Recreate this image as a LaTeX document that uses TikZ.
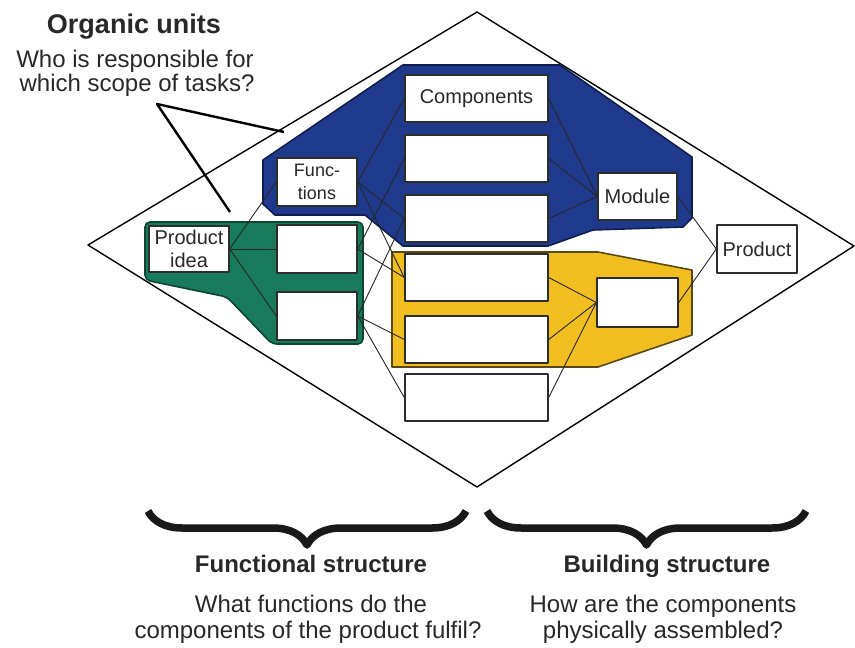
\documentclass[tikz,border=0pt]{standalone}
\usepackage{fontspec}
\setmainfont{Liberation Sans}
\usetikzlibrary{positioning,calc,decorations.pathreplacing}
\definecolor{unitblue}{RGB}{31,58,138}
\definecolor{unitblueline}{RGB}{14,30,80}
\definecolor{unitgreen}{RGB}{24,122,90}
\definecolor{unitgreenline}{RGB}{12,70,50}
\definecolor{unityellow}{RGB}{240,190,30}
\definecolor{unityellowline}{RGB}{90,72,16}
\definecolor{boxgray}{RGB}{45,45,45}
\definecolor{txtgray}{RGB}{40,40,40}

\begin{document}
\begin{tikzpicture}[x=1pt, y=-1pt, line join=round,
  box/.style={draw=boxgray, fill=white, line width=1.4pt, inner sep=0pt, align=center,
              text=txtgray, font=\fontsize{20}{23}\selectfont},
  compbox/.style={box, minimum width=143pt, minimum height=47pt},
  smallbox/.style={box, minimum width=80pt, minimum height=47pt},
  link/.style={draw=black!85, line width=0.9pt},
  callout/.style={draw=black, line width=2.4pt},
  bigbrace/.style={decorate, decoration={brace, mirror, amplitude=34pt}, line width=7.5pt, draw=black!90},
  headtext/.style={text=txtgray, font=\bfseries\fontsize{24}{27}\selectfont, anchor=base},
  asktext/.style={text=txtgray, font=\fontsize{24}{26}\selectfont, align=center, anchor=base}]
\useasboundingbox (0,0) rectangle (855,648);

% frame
\coordinate (top)    at (477,12);
\coordinate (right)  at (854,246);
\coordinate (bottom) at (477,487);
\coordinate (left)   at (88,245);
\draw[line width=1.4pt] (top)--(right)--(bottom)--(left)--cycle;

% organic units
\draw[fill=unitblue, draw=unitblueline, line width=1.6pt]
  (403,65)--(560,65)--(692,157)--(692,218)--(683,227)--(593,230)--(548,246)
  --(403,246)--(365,215)--(275,215)--(263,204)--(263,160)--cycle;
\draw[fill=unitgreen, draw=unitgreenline, line width=1.6pt, rounded corners=5pt]
  (145,222)--(363,222)--(363,344)--(272,344)--(227,297)--(145,280)--cycle;
\draw[fill=unityellow, draw=unityellowline, line width=1.6pt]
  (392,252)--(598,252)--(692,270)--(692,335)--(598,367)--(392,367)--cycle;

% boxes
\foreach \n/\y/\t in {c1/98.5/Components, c2/158.5/, c3/218.5/, c4/277.5/, c5/339.5/, c6/397.5/}
  \node[compbox] (\n) at (476.5,\y) {\t};
\node[smallbox, minimum height=46pt] (idea) at (189,249) {Product\\idea};
\node[smallbox, minimum height=48pt, font=\fontsize{18}{23}\selectfont] (func) at (317,182) {Func-\\tions};
\node[smallbox, minimum height=48pt] (fun1) at (317,249) {};
\node[smallbox, minimum height=48pt] (fun2) at (317,316) {};
\node[smallbox, minimum width=79pt] (modA) at (637.5,196.5) {Module};
\node[smallbox, minimum width=81pt, minimum height=49pt] (modB) at (637.5,302.5) {};
\node[smallbox, minimum height=48pt] (prod) at (757,249) {Product};

% links
\foreach \f in {func,fun1,fun2}
  \draw[link] (idea.east) -- (\f.west);
\foreach \c in {c1,c3,c4}
  \draw[link] (func.east) -- (\c.west);
\foreach \c in {c2,c4}
  \draw[link] (fun1.east) -- (\c.west);
\foreach \c in {c3,c5,c6}
  \draw[link] (fun2.east) -- (\c.west);
\foreach \c in {c1,c2,c3}
  \draw[link] (\c.east) -- (modA.west);
\foreach \c in {c4,c5,c6}
  \draw[link] (\c.east) -- (modB.west);
\draw[link] (modA.east) -- (prod.west);
\draw[link] (modB.east) -- (prod.west);

% callout
\node[headtext, font=\bfseries\fontsize{27}{29}\selectfont] (units) at (134,33) {Organic units};
\node[asktext] (who) at (135,67) {Who is responsible for};
\node[asktext] (scope) at (137,91) {which scope of tasks?};
\coordinate (apex) at (157,104);
\coordinate (tipA) at (284,132);
\coordinate (tipB) at (230,212);
\draw[callout] (tipA) -- (apex) -- (tipB);

% structures
\draw[bigbrace] (148,511) -- (466,511);
\draw[bigbrace] (487,511) -- (806,511);
\node[headtext] (funhead) at (311,572) {Functional structure};
\node[asktext] (funask1) at (311,612) {What functions do the};
\node[asktext] (funask2) at (308,638) {components of the product fulfil?};
\node[headtext] (bldhead) at (667,572) {Building structure};
\node[asktext] (bldask1) at (663,612) {How are the components};
\node[asktext] (bldask2) at (663,638) {physically assembled?};
\end{tikzpicture}
\end{document}
